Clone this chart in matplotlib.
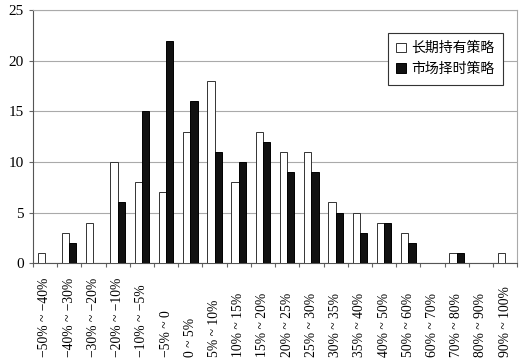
import matplotlib
matplotlib.use("Agg")
import matplotlib.pyplot as plt
import numpy as np

# ============================================================
# DATA
# ============================================================

categories = [
    "−50% ~ −40%", "−40% ~ −30%", "−30% ~ −20%", "−20% ~ −10%",
    "−10% ~ −5%", "−5% ~ 0", "0 ~ 5%", "5% ~ 10%", "10% ~ 15%",
    "15% ~ 20%", "20% ~ 25%", "25% ~ 30%", "30% ~ 35%", "35% ~ 40%",
    "40% ~ 50%", "50% ~ 60%", "60% ~ 70%", "70% ~ 80%", "80% ~ 90%",
    "90% ~ 100%",
]

buy_hold = [1, 3, 4, 10, 8, 7, 13, 18, 8, 13, 11, 11, 6, 5, 4, 3, 0, 1, 0, 1]
market_timing = [0, 2, 0, 6, 15, 22, 16, 11, 10, 12, 9, 9, 5, 3, 4, 2, 0, 1, 0, 0]

series_names = ["长期持有策略", "市场择时策略"]

# ============================================================
# PLOT
# ============================================================

plt.rcParams["font.family"] = ["Liberation Serif", "Noto Sans CJK SC"]

fig = plt.figure(figsize=(5.3, 3.62), dpi=100)
ax = fig.add_axes([0.062, 0.273, 0.914, 0.699])

x = np.arange(len(categories))
w = 0.3

ax.bar(x - w / 2, buy_hold, w, color="white", edgecolor="#333333",
       linewidth=0.7, label=series_names[0], zorder=3)
ax.bar(x + w / 2, market_timing, w, color="#111111", edgecolor="black",
       linewidth=0.7, label=series_names[1], zorder=3)

ax.set_xlim(-0.5, len(categories) - 0.5)
ax.set_ylim(0, 25)
ax.set_yticks(range(0, 26, 5))
ax.yaxis.grid(True, color="#aaaaaa", linewidth=0.8, zorder=0)

# category boundaries as ticks, labels drawn bottom-aligned below
ax.set_xticks(np.arange(-0.5, len(categories), 1.0))
ax.set_xticklabels([])
for xi, lab in zip(x, categories):
    ax.text(xi, -0.372, lab, rotation=90, fontsize=9.8,
            ha="center", va="bottom",
            transform=ax.get_xaxis_transform())

ax.tick_params(axis="x", length=3, direction="out", color="#666666")
ax.tick_params(axis="y", length=3, direction="out", labelsize=11,
               color="#666666")

for side in ["top", "right"]:
    ax.spines[side].set_color("#aaaaaa")
for side in ["left", "bottom"]:
    ax.spines[side].set_color("#555555")

leg = ax.legend(loc="upper right", bbox_to_anchor=(0.97, 0.91),
                borderaxespad=0, fancybox=False, edgecolor="#333333",
                framealpha=1,
                prop={"family": ["Noto Sans CJK SC"], "size": 10},
                handlelength=0.7, handleheight=0.7, handletextpad=0.4,
                borderpad=0.6, labelspacing=0.5)
leg.get_frame().set_linewidth(0.8)

fig.savefig("out.png", dpi=100)
